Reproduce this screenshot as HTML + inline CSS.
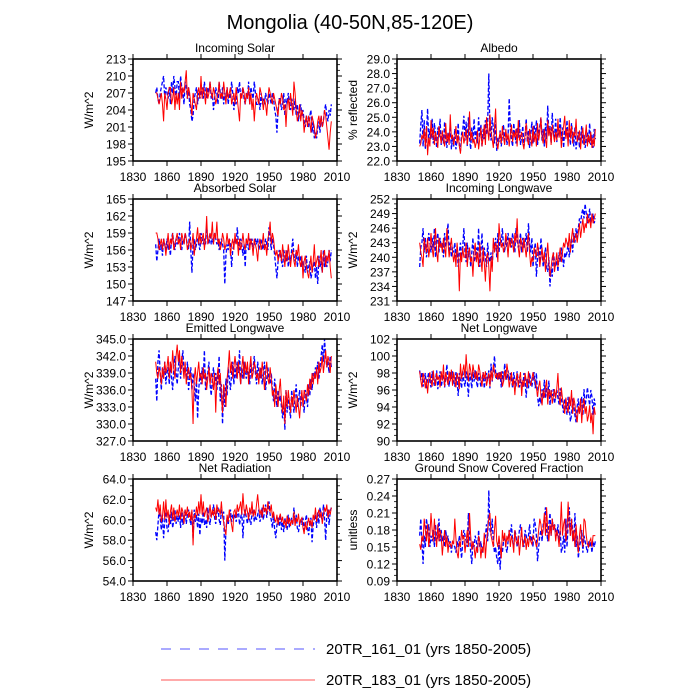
<!DOCTYPE html>
<html><head><meta charset="utf-8">
<style>
html,body{margin:0;padding:0;background:#fff;}
svg{display:block;font-family:"Liberation Sans",sans-serif;}
</style></head>
<body>
<svg id="chart" width="700" height="700" viewBox="0 0 700 700">
<text x="350" y="29" text-anchor="middle" font-size="20">Mongolia (40-50N,85-120E)</text>
<g>
<line x1="161" y1="649" x2="315" y2="649" stroke="#5555ff" stroke-width="1" stroke-dasharray="10,9"/>
<text x="326" y="654" font-size="15">20TR_161_01 (yrs 1850-2005)</text>
<line x1="161" y1="680" x2="315" y2="680" stroke="#ff5555" stroke-width="1"/>
<text x="326" y="685" font-size="15">20TR_183_01 (yrs 1850-2005)</text>
</g>
</svg>
<script>
const startYear = 1850;
const xTicks = [1830,1860,1890,1920,1950,1980,2010];

const solarRed = [207,207,206,205,206,207,205,202,207,206,204,207,208,208,205,206,208,204,207,205,207,204,209,206,208,207,209,211,206,208,207,205,203,207,206,205,204,207,208,206,210,206,208,207,205,208,206,207,209,207,206,208,207,205,206,207,209,206,207,206,209,207,205,208,206,207,208,205,206,207,205,208,206,204,202,207,206,208,207,205,207,206,208,205,207,204,206,202,205,207,206,205,208,207,206,204,206,205,203,206,208,207,206,205,207,206,205,204,203,206,205,207,206,204,205,201,205,206,204,207,205,203,209,207,204,202,203,205,202,204,203,200,202,203,201,203,202,200,203,202,201,199,200,202,203,201,203,201,202,204,203,201,199,197,200,202];
const solarBlue = [207,208,206,205,207,208,209,210,206,208,207,206,208,205,209,207,210,208,206,209,209,206,210,208,207,205,209,208,206,208,205,204,202,203,206,207,208,205,207,206,207,208,206,209,207,206,208,207,209,206,207,204,206,208,207,205,209,207,206,208,205,207,206,208,205,207,206,209,207,204,206,205,208,207,209,206,207,208,206,205,207,206,209,205,208,207,206,209,207,205,205,206,204,207,205,206,205,207,206,205,207,206,205,207,206,204,203,200,204,206,206,204,205,207,203,206,205,207,205,204,206,205,204,206,203,205,202,204,205,203,204,202,201,203,202,201,203,204,200,202,199,200,199,201,202,200,203,201,202,204,205,203,202,204,203,205];

const albedoRed = [23.0,23.2,23.8,23.5,24.2,23.0,24.4,22.4,23.6,23.0,24.8,23.6,24.3,23.1,24.0,23.5,22.9,24.4,23.8,23.2,24.1,23.4,23.0,24.6,23.3,23.9,23.1,25.2,23.5,23.8,23.1,23.6,24.4,23.2,23.8,23.0,22.5,23.5,24.0,23.2,23.6,24.2,23.1,23.8,25.4,23.4,24.0,23.2,23.5,22.9,23.3,24.1,22.8,23.5,24.3,23.0,23.6,24.5,23.1,25.0,24.2,23.4,25.2,24.0,23.5,22.9,24.3,25.6,23.3,22.8,23.5,24.0,23.2,24.4,23.6,23.1,24.2,23.4,23.9,23.0,23.8,24.5,23.3,24.0,23.6,24.2,23.0,24.8,23.4,23.7,24.0,23.2,22.8,23.9,24.6,23.5,23.1,24.2,23.6,23.0,24.4,23.3,23.9,23.0,24.6,23.4,24.0,25.0,23.6,23.2,24.2,23.5,22.9,24.8,23.7,24.3,23.1,24.5,23.8,23.3,24.0,23.4,24.9,23.6,24.3,22.9,23.8,24.4,25.1,23.5,24.2,23.0,24.8,23.6,24.4,23.2,24.0,23.7,24.9,23.3,23.6,24.1,22.8,23.8,24.3,23.1,23.6,24.5,23.0,23.8,23.2,24.0,22.9,23.6,23.0,24.2];
const albedoBlue = [23.2,24.5,25.5,23.0,24.8,22.8,24.0,25.6,23.4,24.2,23.5,24.9,23.2,24.6,23.8,22.9,24.3,23.6,24.9,23.1,23.9,23.2,24.7,23.5,22.9,24.0,23.4,24.4,22.8,23.6,23.0,24.2,22.8,23.5,24.6,23.1,22.7,23.9,24.1,25.1,23.4,24.7,23.0,25.0,23.6,22.8,24.3,23.3,24.9,23.5,24.1,23.2,25.0,23.6,24.5,23.0,24.2,23.5,24.8,23.8,24.6,28.0,24.0,23.4,25.0,24.3,23.2,24.8,22.7,23.6,23.3,24.1,23.0,23.8,24.5,23.4,24.0,23.1,23.7,26.3,24.2,23.5,23.0,24.6,23.8,23.2,24.3,23.6,24.8,23.1,23.7,24.4,23.0,23.6,24.9,23.3,24.1,22.9,23.8,24.7,23.2,24.5,23.6,24.8,23.1,23.9,24.4,25.0,23.4,24.2,23.0,24.6,23.5,25.8,23.8,24.4,23.2,25.3,24.0,23.6,24.9,23.3,24.2,23.7,25.0,23.5,24.3,22.9,24.1,23.6,24.8,23.4,24.0,23.1,24.6,23.8,23.0,24.3,22.8,23.5,24.0,22.9,23.6,24.4,23.2,23.8,22.9,23.5,24.0,23.3,24.6,23.1,23.8,22.9,24.2,23.5];

const absRed = [159,159,158,156,157,158,156,158,157,155,157,159,156,158,157,159,156,157,158,159,157,158,156,159,158,157,159,158,156,157,158,156,157,159,155,157,158,160,157,159,157,158,159,156,158,162,157,158,159,158,161,157,159,158,161,157,158,156,157,159,158,156,157,159,157,158,155,157,158,156,159,157,158,155,158,156,157,159,157,156,158,157,159,156,158,157,155,158,157,156,154,157,158,156,157,159,156,157,155,158,159,161,157,159,158,156,155,156,154,155,156,154,157,155,153,156,154,157,155,153,155,156,154,153,156,155,157,154,153,155,151,154,155,153,152,151,153,155,152,154,157,153,154,155,153,154,156,152,155,156,153,155,154,156,153,151];
const absBlue = [157,154,156,158,156,157,155,158,157,156,158,156,157,155,158,159,157,156,158,157,158,159,157,156,158,157,159,158,157,156,161,156,152,157,158,156,157,158,157,156,159,158,157,158,157,160,158,157,159,157,158,157,159,158,157,158,156,157,158,157,156,150,155,157,156,158,157,153,156,157,158,157,160,157,156,158,157,155,157,153,158,157,156,158,157,158,156,157,158,157,158,156,157,158,156,157,156,158,157,156,160,158,156,158,157,155,153,151,154,156,155,154,153,156,155,154,156,153,155,154,156,158,155,154,156,153,155,154,155,153,154,153,152,155,152,153,154,151,152,153,154,151,153,150,155,153,154,152,156,153,155,153,154,156,154,156];

const ilwRed = [243,241,240,238,244,242,241,244,240,242,245,242,240,243,246,241,239,244,242,243,241,244,242,240,246,243,240,242,244,241,239,241,238,243,240,233,241,239,242,240,240,243,238,241,242,239,240,236,241,243,239,241,238,243,240,237,242,239,235,240,241,238,233,240,237,244,241,243,242,239,247,244,242,243,241,242,245,243,240,244,242,244,243,241,245,243,248,242,240,244,243,241,244,242,240,243,245,241,238,240,239,242,241,240,243,241,238,240,242,239,241,237,240,243,239,236,238,240,241,237,239,241,238,240,242,239,241,243,242,244,243,242,245,241,244,246,243,244,245,243,245,247,244,246,248,245,247,246,249,247,248,246,249,247,248,249];
const ilwBlue = [238,242,243,246,241,244,240,242,245,243,241,244,242,246,240,243,245,241,244,242,243,240,245,242,244,247,241,243,240,242,241,243,240,242,238,241,243,240,242,246,241,239,243,240,242,238,241,244,239,240,242,240,246,238,241,245,239,242,240,238,243,240,239,241,238,243,242,244,240,245,241,244,243,246,242,241,244,242,245,243,244,242,245,243,241,246,244,242,243,245,241,244,242,243,245,241,247,243,241,244,238,241,243,236,240,242,239,244,241,238,240,242,238,237,240,234,238,236,241,239,238,240,237,241,239,242,240,238,241,240,241,243,240,242,244,241,245,243,246,244,246,248,247,249,250,248,251,249,247,248,250,247,248,249,247,248];

const elwRed = [341,339,338,340,339,337,340,338,341,339,340,342,338,341,339,343,340,338,342,344,341,343,339,342,340,338,341,337,339,340,338,339,336,330,338,340,337,339,341,338,339,337,340,338,339,336,338,340,337,339,338,336,339,332,338,340,337,339,335,332,337,336,333,338,340,343,339,341,338,340,342,340,338,341,339,337,340,342,338,341,339,341,337,340,342,338,339,341,340,338,339,337,340,338,341,339,336,339,341,338,337,340,338,335,336,333,337,335,333,336,338,334,332,335,330,336,333,336,334,332,335,333,336,334,332,335,333,331,334,336,333,336,335,334,337,335,338,336,339,337,339,338,340,337,341,339,340,342,339,341,343,340,342,341,339,342];
const elwBlue = [338,334,341,343,339,336,340,338,341,337,339,340,337,341,338,336,340,342,339,337,340,342,338,341,343,339,340,338,341,336,338,340,336,339,337,334,338,331,336,339,337,340,338,343,336,338,339,341,337,335,338,340,337,339,336,338,342,334,337,330,336,333,338,335,340,338,336,339,341,337,340,338,341,339,343,337,340,338,341,339,338,340,339,337,341,338,340,342,339,337,341,339,338,340,337,339,341,336,338,340,338,337,339,336,334,338,335,333,336,334,335,333,331,334,329,336,332,335,333,331,336,334,332,335,337,333,334,336,333,335,334,332,336,335,333,337,335,338,336,339,338,340,339,341,338,340,342,344,341,345,342,340,341,339,342,340];

const nlwRed = [98.2,97.1,96.3,98.0,97.4,96.2,97.3,95.6,97.2,98.1,97.0,96.4,98.3,97.1,96.5,98.0,97.2,97.6,96.3,98.2,97.1,99.0,96.4,98.1,97.3,96.6,98.2,97.0,98.4,96.5,98.1,97.2,96.3,98.0,97.4,96.1,99.1,97.3,98.2,99.0,97.4,100.2,98.1,97.0,99.1,98.3,97.2,99.0,98.1,97.3,98.2,97.1,99.0,98.3,97.2,96.4,98.1,97.3,98.2,96.5,97.2,98.0,96.4,98.3,97.1,99.0,98.2,97.4,98.0,97.2,98.1,97.3,98.2,96.4,97.0,98.3,97.2,99.1,98.0,96.3,97.2,98.1,96.5,97.3,95.4,97.2,98.0,96.3,97.4,98.1,95.3,97.2,96.4,98.0,97.1,96.3,98.2,97.0,96.5,97.3,98.1,97.2,97.0,96.3,95.2,96.4,97.1,95.3,94.2,96.0,95.1,96.3,97.2,94.3,96.1,95.2,96.0,94.4,95.3,96.1,95.0,96.2,98.0,95.1,94.2,96.3,95.0,94.3,93.2,95.1,94.0,93.3,95.2,94.1,96.0,93.2,95.1,94.3,93.0,92.2,94.1,93.2,95.0,92.1,94.3,95.0,93.2,94.1,92.3,93.0,94.2,92.1,93.3,90.8,94.0,93.1];
const nlwBlue = [98.3,97.2,98.1,96.4,97.3,98.0,96.2,97.4,98.1,97.0,96.3,98.2,97.1,96.5,97.2,98.3,96.1,97.3,98.2,96.4,97.1,98.2,96.3,97.4,99.0,97.2,96.4,98.1,97.3,98.2,97.0,96.4,98.1,97.2,95.3,98.0,97.1,96.2,98.3,97.0,96.4,98.2,97.1,95.2,98.0,97.3,96.2,98.1,97.0,98.3,97.1,96.3,98.0,97.2,96.4,97.3,98.1,96.2,97.4,98.0,97.1,98.3,96.2,99.1,97.0,98.2,100.0,98.1,97.3,98.0,97.2,98.1,96.3,98.2,97.0,99.1,98.0,97.2,98.3,97.1,98.0,97.3,96.2,98.1,97.0,96.4,98.2,97.1,96.3,97.2,97.1,96.3,98.0,97.2,95.1,97.3,96.2,98.0,97.1,96.4,97.3,98.1,96.2,98.0,95.3,94.1,95.2,94.4,96.1,95.0,97.2,95.1,96.3,95.0,97.1,94.2,96.0,95.3,96.1,94.4,95.2,96.0,95.1,94.3,96.2,95.0,94.1,93.3,95.0,94.2,93.1,95.2,94.0,92.3,93.1,95.0,94.2,93.0,92.2,94.1,95.0,93.3,94.1,95.2,93.0,96.1,94.2,95.0,96.3,95.1,94.2,96.0,95.2,93.1,95.0,94.2];

const netRed = [61.2,60.8,62.0,60.5,61.5,59.8,60.3,61.8,60.0,62.0,60.2,61.0,59.5,60.8,61.5,60.0,61.2,59.8,60.5,61.0,60.3,61.5,60.0,61.2,60.8,59.6,61.0,60.4,61.3,60.2,60.8,59.9,61.0,57.5,60.5,60.2,61.3,60.4,61.8,60.6,62.5,60.5,61.8,60.3,60.8,61.2,59.8,60.5,61.5,60.2,61.0,60.4,61.2,60.0,61.5,60.8,61.0,60.5,61.8,60.3,59.8,59.0,58.5,60.5,59.8,61.0,60.2,59.5,58.8,60.8,61.0,60.2,61.5,60.8,61.2,61.8,60.5,62.6,61.0,60.4,61.5,60.8,60.0,61.2,60.5,61.8,60.3,61.0,60.4,61.5,62.5,61.2,60.5,61.0,60.2,61.5,60.8,61.2,60.5,61.8,61.0,60.8,61.5,60.2,60.8,60.0,59.8,60.5,59.5,60.2,60.6,59.8,60.3,59.5,60.0,59.2,60.4,59.6,60.2,59.4,60.0,59.6,60.8,59.4,60.2,59.8,60.6,59.5,60.0,60.2,59.2,58.6,59.8,59.0,59.6,60.2,59.4,60.0,59.2,60.5,60.0,61.2,59.8,60.5,61.0,60.2,60.8,59.6,60.4,61.2,60.8,61.5,60.2,61.0,60.5,61.2];
const netBlue = [58.8,58.0,59.5,61.0,60.2,59.0,60.5,58.2,59.8,60.8,59.2,58.8,60.5,59.5,60.8,59.2,60.0,61.0,59.6,60.4,59.8,60.5,59.2,60.8,59.5,60.2,61.0,59.6,60.5,61.0,60.2,59.5,60.8,58.2,61.0,59.8,60.5,59.2,60.6,58.5,60.2,59.6,60.8,59.5,60.0,59.2,61.2,60.0,59.5,60.8,60.5,61.5,60.2,59.6,60.8,61.2,60.0,59.5,61.0,60.4,60.8,56.0,59.0,60.2,59.5,60.5,61.0,59.8,60.5,60.2,60.6,59.8,60.5,61.0,59.5,60.2,60.8,58.2,60.5,61.0,60.2,59.6,60.8,60.0,59.5,60.6,61.0,59.8,60.4,60.0,60.5,61.0,59.8,60.3,61.2,60.0,60.8,61.5,60.2,61.0,61.8,60.5,60.0,59.2,60.6,59.0,58.2,59.5,60.2,59.4,60.5,59.0,59.8,58.8,60.2,59.5,59.0,60.5,59.2,59.8,60.2,59.5,61.2,59.8,60.5,59.2,58.8,59.6,60.0,59.5,60.2,59.0,59.8,60.5,59.2,58.5,59.8,60.2,57.8,59.5,60.0,60.5,59.2,60.8,59.6,61.2,60.5,59.8,61.5,60.2,58.0,60.5,61.0,59.5,60.8,61.2];

const snowRed = [.155,.145,.17,.16,.20,.18,.16,.19,.15,.17,.21,.18,.16,.20,.17,.15,.19,.16,.18,.17,.135,.16,.18,.15,.17,.14,.16,.155,.15,.16,.155,.20,.165,.14,.13,.16,.15,.18,.165,.17,.14,.16,.18,.15,.21,.17,.145,.16,.15,.13,.15,.14,.17,.16,.13,.15,.14,.175,.13,.16,.18,.20,.21,.17,.16,.15,.18,.205,.16,.15,.17,.15,.13,.18,.16,.175,.15,.17,.16,.18,.15,.17,.16,.14,.18,.16,.155,.17,.135,.16,.185,.15,.16,.17,.145,.165,.15,.17,.16,.155,.17,.165,.16,.15,.16,.18,.20,.19,.17,.18,.21,.17,.22,.18,.16,.19,.17,.20,.18,.19,.16,.18,.17,.15,.18,.23,.17,.19,.20,.16,.18,.23,.19,.17,.20,.16,.18,.15,.19,.16,.14,.17,.19,.16,.15,.20,.195,.17,.155,.15,.16,.165,.15,.17,.17,.17];
const snowBlue = [.17,.20,.16,.12,.17,.15,.20,.18,.19,.15,.17,.16,.18,.15,.19,.16,.17,.20,.16,.18,.16,.17,.15,.18,.16,.17,.15,.16,.14,.16,.155,.15,.14,.16,.15,.17,.15,.13,.16,.18,.17,.16,.15,.21,.17,.14,.12,.16,.15,.17,.16,.14,.18,.15,.16,.14,.15,.16,.17,.19,.16,.25,.18,.17,.20,.16,.14,.15,.13,.12,.16,.11,.15,.14,.16,.17,.15,.14,.16,.18,.17,.19,.16,.15,.18,.17,.15,.16,.18,.19,.17,.16,.15,.18,.17,.16,.17,.19,.16,.17,.15,.20,.19,.17,.125,.15,.17,.18,.16,.19,.20,.22,.18,.16,.19,.21,.17,.20,.18,.19,.18,.17,.19,.16,.18,.14,.15,.17,.14,.20,.15,.19,.22,.17,.20,.18,.16,.21,.15,.17,.13,.15,.16,.18,.14,.17,.16,.15,.14,.16,.15,.16,.14,.16,.15,.16];

const panels = [
  {name:'incoming-solar', title:'Incoming Solar', unit:'W/m^2', col:0,row:0, min:195,max:213,step:3,dec:0, red:solarRed, blue:solarBlue},
  {name:'albedo', title:'Albedo', unit:'% reflected', col:1,row:0, min:22,max:29,step:1,dec:1, red:albedoRed, blue:albedoBlue},
  {name:'absorbed-solar', title:'Absorbed Solar', unit:'W/m^2', col:0,row:1, min:147,max:165,step:3,dec:0, red:absRed, blue:absBlue},
  {name:'incoming-longwave', title:'Incoming Longwave', unit:'W/m^2', col:1,row:1, min:231,max:252,step:3,dec:0, red:ilwRed, blue:ilwBlue},
  {name:'emitted-longwave', title:'Emitted Longwave', unit:'W/m^2', col:0,row:2, min:327,max:345,step:3,dec:1, red:elwRed, blue:elwBlue},
  {name:'net-longwave', title:'Net Longwave', unit:'W/m^2', col:1,row:2, min:90,max:102,step:2,dec:0, red:nlwRed, blue:nlwBlue},
  {name:'net-radiation', title:'Net Radiation', unit:'W/m^2', col:0,row:3, min:54,max:64,step:2,dec:1, red:netRed, blue:netBlue},
  {name:'snow-fraction', title:'Ground Snow Covered Fraction', unit:'unitless', col:1,row:3, min:0.09,max:0.27,step:0.03,dec:2, red:snowRed, blue:snowBlue}
];

const NS = 'http://www.w3.org/2000/svg';
const svg = document.getElementById('chart');
function mk(tag, attrs, parent){
  const e = document.createElementNS(NS, tag);
  for (const k in attrs) e.setAttribute(k, attrs[k]);
  (parent||svg).appendChild(e);
  return e;
}
const W = 204, H = 102;
panels.forEach(p => {
  const x0 = p.col ? 397 : 133;
  const y0 = 59 + p.row * 140;
  const g = mk('g', {});
  
  
  const xs = yr => x0 + (yr - 1830) / 180 * W;
  const ys = v => y0 + H - (v - p.min) / (p.max - p.min) * H;
  const mkPath = (arr) => arr.map((v,i) => (i ? 'L' : 'M') + xs(startYear + i).toFixed(2) + ' ' + ys(v).toFixed(2)).join('');
  const pb = mk('path', {d: mkPath(p.blue), fill:'none', stroke:'#0000ff', 'stroke-width':1.3, 'stroke-dasharray':'4,2'}, g);
  
  
  const pr = mk('path', {d: mkPath(p.red), fill:'none', stroke:'#ff0000', 'stroke-width':1}, g);
  
  
  const box = mk('rect', {x:x0, y:y0, width:W, height:H, fill:'none', stroke:'#000', 'stroke-width':1.6}, g);
  
  
  xTicks.forEach(t => {
    const x = xs(t);
    mk('line', {x1:x, y1:y0+H, x2:x, y2:y0+H+5, stroke:'#000', 'stroke-width':1}, g);
    mk('line', {x1:x, y1:y0, x2:x, y2:y0-5, stroke:'#000', 'stroke-width':1}, g);
    const lb = mk('text', {x:x, y:y0+H+20, 'text-anchor':'middle', 'font-size':12}, g);
    lb.textContent = t;
    
    
  });
  const n = Math.round((p.max - p.min) / p.step);
  for (let i = 0; i <= n; i++) {
    const v = p.min + i * p.step;
    const y = ys(v);
    mk('line', {x1:x0, y1:y, x2:x0-5, y2:y, stroke:'#000', 'stroke-width':1}, g);
    mk('line', {x1:x0+W, y1:y, x2:x0+W+5, y2:y, stroke:'#000', 'stroke-width':1}, g);
    const lb = mk('text', {x:x0-7, y:y+4.5, 'text-anchor':'end', 'font-size':12}, g);
    lb.textContent = v.toFixed(p.dec);
    
    
    if (i < n) {
      for (let k = 1; k < 3; k++) {
        const ym = ys(v + p.step * k / 3);
        mk('line', {x1:x0, y1:ym, x2:x0-3, y2:ym, stroke:'#000', 'stroke-width':0.8}, g);
        mk('line', {x1:x0+W, y1:ym, x2:x0+W+3, y2:ym, stroke:'#000', 'stroke-width':0.8}, g);
      }
    }
  }
  const tt = mk('text', {x:x0+W/2, y:y0-7, 'text-anchor':'middle', 'font-size':12}, g);
  tt.textContent = p.title;
  
  
  const yt = mk('text', {x:0, y:0, 'text-anchor':'middle', 'font-size':12, transform:'translate(' + (x0-40) + ',' + (y0+H/2) + ') rotate(-90)'}, g);
  yt.textContent = p.unit;
  
  
});
</script>
</body></html>
